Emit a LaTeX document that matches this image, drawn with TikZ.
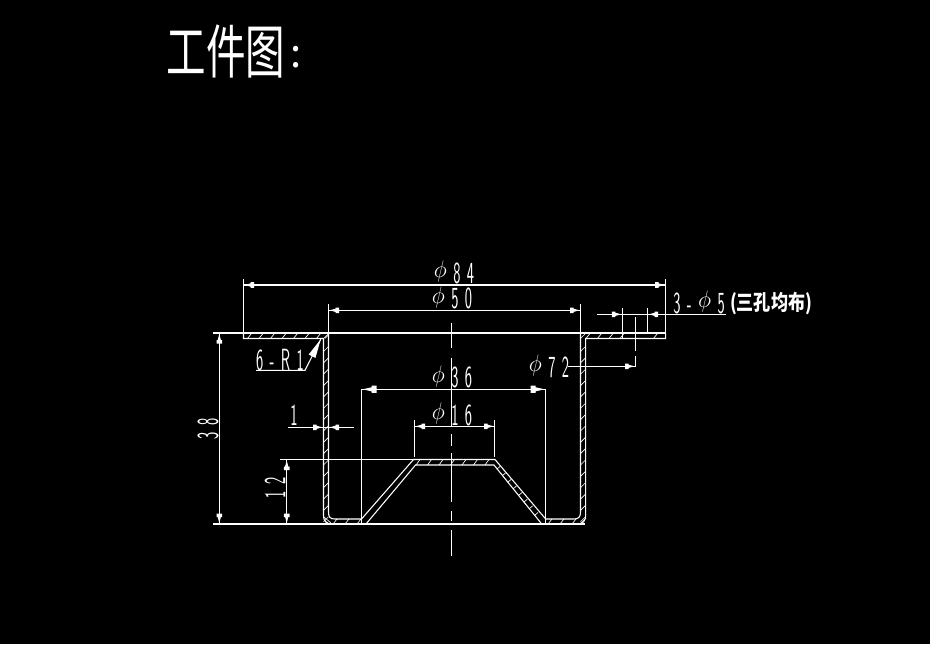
\documentclass[tikz,border=0pt]{standalone}
\usepackage{fontspec}
\newfontfamily\cjk{Noto Sans CJK SC}
\usetikzlibrary{calc}
\newcommand{\ls}{\hspace{0.42em}}
\newcommand{\dia}{\smash{\raisebox{0.17em}{\scalebox{1.35}[0.72]{$\phi$}}}}
\tikzset{
  x=0.75pt,y=-0.75pt,
  ln/.style={draw=white,line width=0.8pt},
  thin ln/.style={draw=white,line width=0.5pt},
  cadtext/.style={text=white,inner sep=0pt,font=\sffamily\fontsize{23}{23}\selectfont,xscale=0.5},
  cadvert/.style={text=white,inner sep=0pt,font=\sffamily\fontsize{23}{23}\selectfont,rotate=90,xscale=0.5},
  pics/tipa/.style={code={\fill[white] (1,0)--(7,-1.6)--(7,-2.8)--(10.5,-2.8)--(10.5,2.8)--(7,2.8)--(7,1.6)--cycle;}},
  pics/tipb/.style={code={\fill[white] (1,0)--(10,-2)--(10,-3.6)--(15,-3.6)--(15,3.6)--(10,3.6)--(10,2)--cycle;}},
  pics/tipc/.style={code={\fill[white] (0,0)--(19,-3.8)--(19,3.8)--cycle;}}
}
\begin{document}
\begin{tikzpicture}
\useasboundingbox (0,0) rectangle (930,644);
\fill[black] (0,0) rectangle (930,644);
% title
\node[text=white,inner sep=0pt,anchor=center,xscale=0.78,yscale=1.15] (title) at (226,51) {\cjk\fontsize{38}{38}\selectfont 工件图};
\node[text=white,inner sep=0pt] (colon) at (296,57) {\cjk\fontsize{30}{30}\selectfont :};
% part outline
\draw[ln] (243.5,333)--(243.5,338.5)--(323.5,338.5)--(323.5,515)
  .. controls (323.5,522) and (327,524) .. (332,524)--(366,524)--(415.5,465)--(494,465)--(541.7,524)--(577,524)
  .. controls (583,524) and (585.7,521) .. (585.7,515)--(585.7,338.5)--(665.7,338.5)--(665.7,333);
\draw[ln] (328.5,333)--(328.5,512) .. controls (328.5,517) and (330,519) .. (335,519)--(361.5,519)--(413.5,459.5)--(495,459.5)--(545.7,519)--(574,519)
  .. controls (578.5,519) and (580.5,517) .. (580.5,512)--(580.5,333);
% hatching
\foreach \k in {0,...,6} \draw[thin ln] ({247.5+11.5*\k},338.5)--++(4,-5);
\foreach \x in {586,597.5,609,620,653.5} \draw[thin ln] (\x,338.5)--++(4,-5);
\foreach \k in {0,...,15} {
  \draw[thin ln] (323.5,{351.5+11.35*\k})--++(5,-5);
  \draw[thin ln] (580.5,{351.5+11.35*\k})--++(5,-5);
}
\foreach \x in {333,345,357,548,560,572} \draw[thin ln] (\x,524)--++(4,-5);
\foreach \x in {416,427.5,439,450.5,462,473.5,485} \draw[thin ln] (\x,465)--++(4,-5.5);
\foreach \k in {1,...,8} {
  \draw[thin ln] ({540-5.4*\k},{522-6.6*\k})--++(3.5,-3);
}
\draw[thin ln] (323.5,338.5)--(328.5,333.5) (325,338.5)--(328.5,335);
\draw[thin ln] (580.5,338.5)--(585.5,333.5);
\draw[thin ln] (324,520)--(329,524) (324,517)--(331,523);
\draw[thin ln] (580,524)--(585,519);
% datum lines
\draw[ln] (213,333)--(665.7,333);
\draw[ln] (213,524)--(585,524);
\draw[ln] (280,459.5)--(495,459.5);
% centre line
\draw[ln] (451.3,322.7)--(451.3,348.3) (451.3,358.3)--(451.3,425.7) (451.3,434)--(451.3,446) (451.3,453)--(451.3,502) (451.3,511)--(451.3,521) (451.3,530)--(451.3,555.7);
% phi84
\draw[ln] (243.5,279)--(243.5,333) (665.7,279)--(665.7,338.5) (243.5,285)--(665.7,285);
\path (243.5,285) pic {tipa} (665.7,285) pic[rotate=180] {tipa};
\node[cadtext] (d84) at (454,273) {\dia\ls 8\ls 4};
% phi50
\draw[ln] (328.5,304)--(328.5,333) (580.5,304)--(580.5,333) (328.5,310.3)--(580.5,310.3);
\path (328.5,310.3) pic {tipa} (580.5,310.3) pic[rotate=180] {tipa};
\node[cadtext] (d50) at (452,298.5) {\dia\ls 5\ls 0};
% phi36
\draw[ln] (361.5,389.3)--(361.5,524) (545.7,389.3)--(545.7,524) (361.5,389.3)--(545.7,389.3);
\path (361.5,389.3) pic {tipb} (545.7,389.3) pic[rotate=180] {tipb};
\node[cadtext] (d36) at (452,377.5) {\dia\ls 3\ls 6};
% phi16
\draw[ln] (414.5,420)--(414.5,457) (494.7,420)--(494.7,457) (414.5,426.3)--(494.7,426.3);
\path (414.5,426.3) pic {tipa} (494.7,426.3) pic[rotate=180] {tipa};
\node[cadtext] (d16) at (452,415) {\dia\ls 1\ls 6};
% phi72
\node[cadtext] (d72) at (549,367) {\dia\ls 7\ls 2};
\draw[ln] (568,366.3)--(635.5,366.3)--(635.5,356) (635.5,351)--(635.5,317);
\path (635.5,366.3) pic[rotate=180] {tipa};
% 3-phi5
\draw[ln] (622.3,307.7)--(622.3,338.5) (647.7,307.7)--(647.7,333) (597.3,314.3)--(726,314.3);
\path (622.3,314.3) pic[rotate=180] {tipa} (647.7,314.3) pic {tipa};
\node[cadtext] (d5) at (699,303) {3\ls -\ls \dia\ls 5};
\node[text=white,inner sep=0pt,xscale=0.8] (note) at (771,303.5) {\cjk\bfseries\fontsize{16}{16}\selectfont (三孔均布)};
% 1
\draw[ln] (288,427.3)--(354,427.3);
\path (323.5,427.3) pic[rotate=180] {tipa} (328.5,427.3) pic {tipa};
\node[cadtext] (t1) at (294,415) {1};
% 38
\draw[ln] (219.3,333)--(219.3,524);
\path (219.3,333) pic[rotate=-90] {tipa} (219.3,524) pic[rotate=90] {tipa};
\node[cadvert] (t38) at (208,429) {3\ls 8};
% 12
\draw[ln] (286.7,459.5)--(286.7,524);
\path (286.7,459.5) pic[rotate=-90] {tipa} (286.7,524) pic[rotate=90] {tipa};
\node[cadvert] (t12) at (275,488) {1\ls 2};
% 6-R1
\draw[ln] (256,370.3)--(305,370.3)--(320.7,339.3);
\path (320.7,339.3) pic[rotate=-117] {tipc};
\node[cadtext] (tr) at (280,360) {6\ls -\ls R\ls 1};
\end{tikzpicture}
\end{document}
